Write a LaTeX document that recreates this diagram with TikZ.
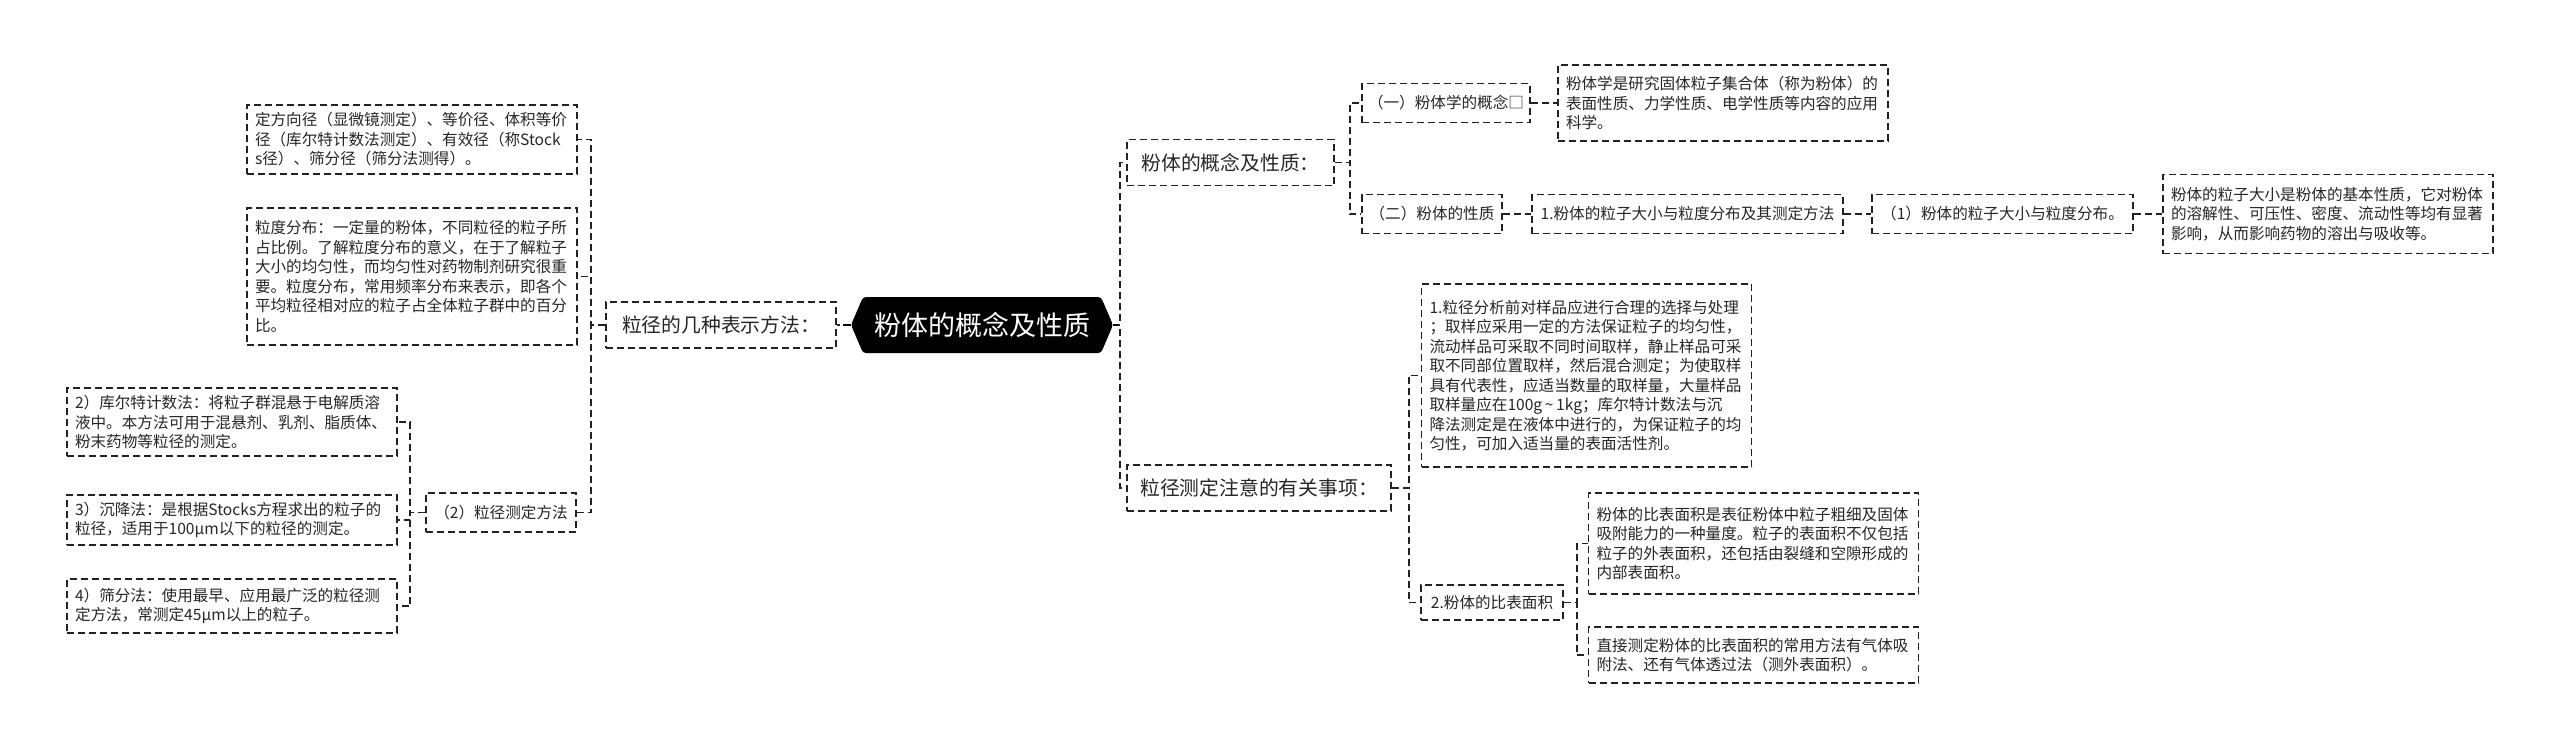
\documentclass[tikz,border=0pt]{standalone}
\usepackage{fontspec}
\setmainfont{Noto Sans CJK SC}
\usetikzlibrary{calc}
\definecolor{linec}{HTML}{222222}
\definecolor{textc}{HTML}{262626}
\begin{document}
\begin{tikzpicture}[x=0.5pt,y=-0.5pt,
  dsh/.style={dash pattern=on 3.5pt off 2pt},
  box/.style={draw=linec, dsh, line width=0.95pt, text=textc, inner sep=0pt, align=center},
  small/.style={font=\fontsize{7.8pt}{9.75pt}\selectfont},
  para/.style={box, small, align=left, text width=157pt, inner xsep=4pt},
  lone/.style={box, small, minimum height=19.5pt},
  mid/.style={box, font=\fontsize{9.9pt}{12pt}\selectfont, minimum height=23pt},
  rootnode/.style={inner sep=0pt, text=white, font=\fontsize{13.5pt}{16pt}\selectfont, minimum width=131pt, minimum height=28pt},
  conn/.style={draw=linec, dsh, line width=0.95pt},
  stub/.style={draw=black, line width=1.2pt},
]
\fill[white] (0,0) rectangle (2560,752);

% root
\fill[black, rounded corners=1.5pt] (851,325) -- (863,297) -- (1101,297) -- (1113,325) -- (1101,353) -- (863,353) -- cycle;
\node[rootnode] (root) at (982,325) {粉体的概念及性质};

% left side
\node[mid, minimum width=115pt] (L1) at (721,325) {粒径的几种表示方法：};
\node[para, minimum height=34.5pt] (A) at (412,139.5) {定方向径（显微镜测定）、等价径、体积等价\\径（库尔特计数法测定）、有效径（称Stock\\s径）、筛分径（筛分法测得）。};
\node[para, minimum height=68.5pt] (B) at (412,276.5) {粒度分布：一定量的粉体，不同粒径的粒子所\\占比例。了解粒度分布的意义，在于了解粒子\\大小的均匀性，而均匀性对药物制剂研究很重\\要。粒度分布，常用频率分布来表示，即各个\\平均粒径相对应的粒子占全体粒子群中的百分\\比。};
\node[lone, minimum width=75pt] (L2) at (501,512.5) {（2）粒径测定方法};
\node[para, minimum height=34pt] (C2) at (232,422) {2）库尔特计数法：将粒子群混悬于电解质溶\\液中。本方法可用于混悬剂、乳剂、脂质体、\\粉末药物等粒径的测定。};
\node[para, minimum height=25pt] (C3) at (232,520) {3）沉降法：是根据Stocks方程求出的粒子的\\粒径，适用于100μm以下的粒径的测定。};
\node[para, minimum height=27pt] (C4) at (232,606) {4）筛分法：使用最早、应用最广泛的粒径测\\定方法，常测定45μm以上的粒子。};

% right side
\node[mid, minimum width=103.5pt] (R1) at (1230.5,162.5) {粉体的概念及性质：};
\node[lone, minimum width=84pt] (R1a) at (1446,103) {（一）粉体学的概念□};
\node[para, minimum height=38pt] (R1ap) at (1723,103) {粉体学是研究固体粒子集合体（称为粉体）的\\表面性质、力学性质、电学性质等内容的应用\\科学。};
\node[lone, minimum width=70pt] (R1b) at (1432,214) {（二）粉体的性质};
\node[lone, minimum width=155.5pt] (R1b1) at (1687.5,214) {1.粉体的粒子大小与粒度分布及其测定方法};
\node[lone, minimum width=130.5pt] (R1b2) at (2002.5,214) {（1）粉体的粒子大小与粒度分布。};
\node[para, minimum height=39.5pt] (R1b3) at (2328,214) {粉体的粒子大小是粉体的基本性质，它对粉体\\的溶解性、可压性、密度、流动性等均有显著\\影响，从而影响药物的溶出与吸收等。};

\node[mid, minimum width=132pt] (R2) at (1259,488) {粒径测定注意的有关事项：};
\node[para, minimum height=91.5pt] (R2a) at (1586.5,375.5) {1.粒径分析前对样品应进行合理的选择与处理\\；取样应采用一定的方法保证粒子的均匀性，\\流动样品可采取不同时间取样，静止样品可采\\取不同部位置取样，然后混合测定；为使取样\\具有代表性，应适当数量的取样量，大量样品\\取样量应在100g{\,}\textasciitilde{\,}1kg；库尔特计数法与沉\\降法测定是在液体中进行的，为保证粒子的均\\匀性，可加入适当量的表面活性剂。};
\node[lone, minimum width=71pt, minimum height=17.5pt] (R2b) at (1492,602.5) {2.粉体的比表面积};
\node[para, minimum height=50.5pt] (R2b1) at (1753.5,543.5) {粉体的比表面积是表征粉体中粒子粗细及固体\\吸附能力的一种量度。粒子的表面积不仅包括\\粒子的外表面积，还包括由裂缝和空隙形成的\\内部表面积。};
\node[para, minimum height=28pt] (R2b2) at (1753.5,655) {直接测定粉体的比表面积的常用方法有气体吸\\附法、还有气体透过法（测外表面积）。};

% connectors
\draw[conn] (root.west) -- (L1.east);
\draw[stub] (root.west) -- ++(-8,0);
\draw[conn] (root.east) -- ++(7,0) |- (R1.west);
\draw[conn] (root.east) -- ++(7,0) |- (R2.west);
\draw[stub] (root.east) -- ++(5,0);

\draw[conn] (L1.west) -- ++(-14,0) |- (A.east);
\draw[conn] (L1.west) -- ++(-14,0) |- (B.east);
\draw[conn] (L1.west) -- ++(-14,0) |- (L2.east);
\draw[conn] (L2.west) -- ++(-15,0) |- (C2.east);
\draw[conn] (L2.west) -- ++(-15,0) |- (C3.east);
\draw[conn] (L2.west) -- ++(-15,0) |- (C4.east);

\draw[conn] (R1.east) -- ++(15,0) |- (R1a.west);
\draw[conn] (R1.east) -- ++(15,0) |- (R1b.west);
\draw[conn] (R1a.east) -- (R1ap.west);
\draw[conn] (R1b.east) -- (R1b1.west);
\draw[conn] (R1b1.east) -- (R1b2.west);
\draw[conn] (R1b2.east) -- (R1b3.west);

\draw[conn] (R2.east) -- ++(17,0) |- (R2a.west);
\draw[conn] (R2.east) -- ++(17,0) |- (R2b.west);
\draw[conn] (R2b.east) -- ++(13,0) |- (R2b1.west);
\draw[conn] (R2b.east) -- ++(13,0) |- (R2b2.west);
\end{tikzpicture}
\end{document}
